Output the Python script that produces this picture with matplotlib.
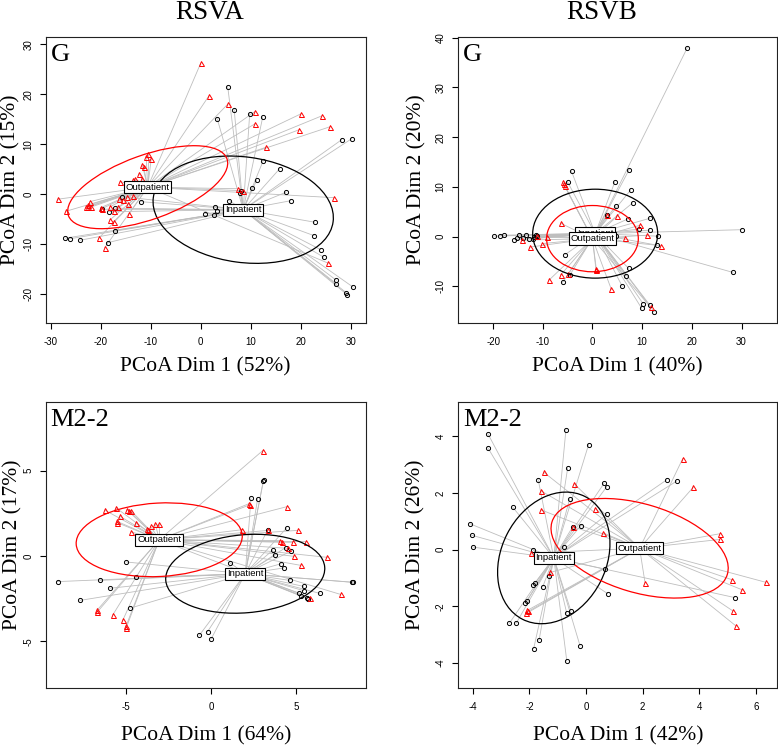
import matplotlib
matplotlib.use("Agg")
import matplotlib.pyplot as plt
from matplotlib.patches import Ellipse
import numpy as np

plt.rcParams['axes.unicode_minus'] = False

# ---------------- DATA ----------------
# Panel 1: RSVA, G
rsva_g_in_x = [5.4, 6.7, 3.3, 9.8, 12.4, 28.2, 30.2, 12.5, 15.8, 11.2, 10.3, 8.1, 7.9, 17.1, 18.0, 5.7, 2.9, 3.3, 0.9, 2.6,
               22.8, 22.7, 24.0, 24.6, 27.1, 27.1, 29.1, 29.3, 30.5, -11.9, -15.7, -19.8, -17.1, -18.3, -17.2, -18.6, -27.1, -26.1, -24.1]
rsva_g_in_y = [21.5, 16.9, 15.1, 16.1, 15.4, 10.9, 11.1, 6.7, 5.1, 2.8, 1.2, 0.7, 0.2, 0.4, -1.3, -1.3, -2.5, -3.3, -3.9, -4.1,
               -5.6, -8.3, -11.1, -12.6, -17.2, -17.9, -19.7, -20.1, -18.6, -1.5, -0.5, -3.0, -2.8, -3.5, -7.3, -9.7, -8.8, -8.9, -9.2]
rsva_g_out_x = [0.0, 1.6, 5.5, 10.8, 10.9, 20.1, 24.3, 19.7, 25.9, 13.1, -10.6, -10.9, -9.9, -11.7, -11.4, -12.3, -11.8, -13.5, -13.2,
                -16.1, 7.5, 8.5, 26.7, -28.6, -26.9, -22.2, -22.5, -23.0, -22.6, -22.0, -20.0, -19.8, -18.1, -16.4, -15.6, -14.8,
                -13.5, -14.5, -16.6, -17.3, -14.3, -18.1, -17.4, -20.3, -19.2, 25.5]
rsva_g_out_y = [26.2, 19.6, 18.1, 16.5, 14.1, 16.1, 15.7, 12.9, 13.5, 9.4, 8.1, 7.4, 7.0, 5.9, 5.4, 4.1, 3.1, 2.9, 3.1,
                2.5, 1.1, 0.7, -0.7, -1.0, -3.4, -1.5, -2.2, -2.6, -2.6, -2.6, -2.7, -2.9, -2.5, -0.9, -1.2, -0.5,
                -0.3, -2.0, -2.6, -3.3, -3.9, -5.1, -5.5, -8.7, -10.7, -13.8]

# Panel 2: RSVB, G
rsvb_g_in_x = [19.1, -4.2, -5.0, 7.4, 4.5, 7.7, 8.1, 4.7, 2.9, 7.2, 11.6, 11.5, 9.3, 30.1, 13.2, 12.9, 28.3, 7.3, 6.7, 6.0,
               10.2, 9.9, 11.5, 12.4, -5.5, -4.6, -6.0, -19.9, -18.7, -17.8, -15.7, -15.2, -14.8, -13.9, -13.4, -12.8,
               -11.9, -11.7, -11.3, -11.1, 4.8]
rsvb_g_in_y = [38.0, 13.1, 11.0, 13.5, 11.0, 9.4, 6.8, 6.2, 4.4, 3.6, 3.7, 1.3, 1.5, 1.4, 0.1, -1.7, -7.2, -6.4, -7.9, -10.0,
               -13.5, -14.4, -13.7, -15.1, -3.6, -7.8, -9.2, 0.1, 0.2, 0.3, -0.6, -0.3, 0.4, -0.2, 0.4, -0.4,
               -0.4, 0.0, 0.3, 0.1, 0.1]
rsvb_g_out_x = [-6.0, -5.8, -5.6, 3.0, 5.0, -6.4, 9.6, 11.0, 6.5, 13.7, -9.1, -10.1, -12.6, -14.2, 0.7, 0.8, -6.4, -4.9,
                -8.7, 3.8, 11.7, -11.2]
rsvb_g_out_y = [11.0, 10.6, 10.2, 4.4, 4.1, 2.7, 2.3, 0.3, -0.2, -1.8, -0.1, -1.4, -2.1, -0.7, -6.6, -6.7, -7.7, -7.5,
                -8.7, -10.6, -14.2, 0.2]

# Panel 3: RSVA, M2-2
rsva_m_in_x = [3.10, 3.09, 2.36, 2.75, 3.34, 4.46, 3.63, 3.79, 4.40, 4.73, 4.15, 4.30, 4.64, 5.46, 5.46, 5.19, 5.30, 5.64,
               5.74, 6.42, 8.33, 8.39, 1.10, -0.69, -0.20, 0.00, -5.01, -4.44, -9.04, -6.54, -5.95, -7.72, -4.75]
rsva_m_in_y = [4.45, 4.40, 3.40, 3.34, 1.52, 1.64, 0.33, 0.06, 0.49, 0.29, -0.45, -0.70, -1.43, -1.78, -2.03, -2.17, -2.32,
               -2.44, -2.52, -2.19, -1.54, -1.54, -0.39, -4.65, -4.43, -4.88, -0.35, -1.25, -1.50, -1.43, -1.89, -2.60, -3.05]
rsva_m_out_x = [3.05, -6.25, -5.58, -4.95, -4.85, -4.72, -5.36, -5.54, -5.52, -4.44, -4.70, -3.77, -3.71, -3.56, -3.28,
                -3.05, 2.26, 2.30, 4.48, 1.85, 3.38, 5.11, 4.09, 4.17, 4.81, 5.60, 4.52, 4.89, 6.86, 5.30, 7.64, 5.83,
                -6.72, -6.70, -5.78, -5.19, -5.01, -4.99]
rsva_m_out_y = [6.17, 2.68, 2.81, 2.70, 2.66, 2.66, 2.32, 2.03, 1.95, 1.93, 1.41, 1.58, 1.50, 1.74, 1.89,
                1.88, 3.07, 3.00, 2.89, 1.54, 1.50, 1.50, 0.90, 0.82, 0.80, 0.84, 0.45, -0.02, -0.08, -0.55, -2.25, -2.44,
                -3.18, -3.28, -3.44, -3.75, -4.12, -4.20]

# Panel 4: RSVB, M2-2
rsvb_m_in_x = [-3.46, -3.47, -0.71, 0.09, -0.65, -1.69, 0.64, 0.73, -0.58, -2.58, 0.73, -0.19, -0.47, -4.09, -4.04, -3.99,
               -1.86, -0.79, 2.84, 3.20, 0.67, 0.76, 5.25, -1.31, -1.53, -1.80, -1.87, -2.08, -2.14, -2.71, -2.47, -0.68,
               -0.53, -1.66, -1.85, -0.21, -0.68]
rsvb_m_in_y = [4.08, 3.60, 4.24, 3.71, 2.88, 2.47, 2.35, 2.22, 1.79, 1.49, 1.25, 0.84, 0.81, 0.91, 0.51, 0.09,
               -0.02, 0.09, 2.46, 2.42, -0.69, -1.55, -1.69, -0.92, -1.31, -1.18, -1.26, -1.80, -1.88, -2.60, -2.60, -2.25,
               -2.18, -3.20, -3.49, -3.40, -3.93]
rsvb_m_out_x = [-1.49, -0.41, -1.58, -1.58, 0.33, -0.47, 0.61, 3.41, 3.79, 4.71, 4.71, -1.94, -1.26, 2.08, 5.15, 5.52,
                6.34, 5.18, 5.29, -2.07, -2.11, -2.05]
rsvb_m_out_y = [2.73, 2.32, 2.07, 1.40, 1.45, 0.81, 0.59, 3.21, 2.21, 0.56, 0.36, -0.12, -0.80, -1.16, -1.06, -1.42,
                -1.15, -2.16, -2.69, -2.14, -2.25, -2.18]

# Group centroids (Inpatient, Outpatient) and ellipse parameters: semi-axis a, semi-axis b, angle (deg)
centroid_in = [(8.5, -3.1), (0.55, 0.6), (2.02, -1.04), (-1.14, -0.29)]
centroid_out = [(-10.6, 1.4), (0.0, -0.4), (-3.05, 0.95), (1.89, 0.05)]
ellipse_in = [(18.14, 10.55, -7.7), (12.58, 8.94, 0.0), (4.70, 2.285, 4.8), (2.43, 1.85, 63.0)]
ellipse_out = [(16.84, 6.43, 19.7), (9.23, 6.66, 0.0), (4.90, 2.15, 3.0), (3.23, 1.56, -16.6)]

panel_names = ["G", "G", "M2-2", "M2-2"]
column_titles = ["RSVA", "RSVB"]
xlabels = ["PCoA Dim 1 (52%)", "PCoA Dim 1 (40%)", "PCoA Dim 1 (64%)", "PCoA Dim 1 (42%)"]
ylabels = ["PCoA Dim 2 (15%)", "PCoA Dim 2 (20%)", "PCoA Dim 2 (17%)", "PCoA Dim 2 (26%)"]
xlims = [(-31.0, 33.0), (-27.0, 37.2), (-9.74, 9.12), (-4.51, 6.75)]
ylims = [(-25.7, 31.5), (-17.3, 40.2), (-7.73, 9.0), (-4.88, 5.2)]
xticks = [[-30, -20, -10, 0, 10, 20, 30], [-20, -10, 0, 10, 20, 30], [-5, 0, 5], [-4, -2, 0, 2, 4, 6]]
yticks = [[-20, -10, 0, 10, 20, 30], [-10, 0, 10, 20, 30, 40], [-5, 0, 5], [-4, -2, 0, 2, 4]]

in_x = [rsva_g_in_x, rsvb_g_in_x, rsva_m_in_x, rsvb_m_in_x]
in_y = [rsva_g_in_y, rsvb_g_in_y, rsva_m_in_y, rsvb_m_in_y]
out_x = [rsva_g_out_x, rsvb_g_out_x, rsva_m_out_x, rsvb_m_out_x]
out_y = [rsva_g_out_y, rsvb_g_out_y, rsva_m_out_y, rsvb_m_out_y]

# ---------------- FIGURE ----------------
W, H = 778, 747
fig = plt.figure(figsize=(W / 100, H / 100), dpi=100)

serif = "Liberation Serif"
sans = "Liberation Sans"

rects = [
    [45.7 / W, 1 - 322.7 / H, 320 / W, 286 / H],
    [458.3 / W, 1 - 322.7 / H, 319 / W, 286 / H],
    [45.7 / W, 1 - 688 / H, 320 / W, 285.7 / H],
    [458.3 / W, 1 - 688 / H, 319 / W, 285.7 / H],
]
xlab_pos = [-0.172, -0.172, -0.183, -0.183]
ylab_pos = [-0.093, -0.114, -0.087, -0.117]

grey = "#BEBEBE"

for i in range(4):
    ax = fig.add_axes(rects[i])
    groups = [
        (in_x[i], in_y[i], centroid_in[i], ellipse_in[i], "black", "o", 3.0, "Inpatient"),
        (out_x[i], out_y[i], centroid_out[i], ellipse_out[i], "red", "^", 3.6, "Outpatient"),
    ]
    # spider lines
    for xs, ys, c, e, col, mk, ms, lab in groups:
        for px, py in zip(xs, ys):
            ax.plot([c[0], px], [c[1], py], color=grey, lw=0.6, zorder=1)
    # points
    for xs, ys, c, e, col, mk, ms, lab in groups:
        ax.plot(xs, ys, linestyle="none", marker=mk, ms=ms, mfc="none", mec=col, mew=0.7, zorder=3)
    # ellipses
    for xs, ys, c, e, col, mk, ms, lab in groups:
        ax.add_patch(Ellipse(c, 2 * e[0], 2 * e[1], angle=e[2], fill=False, ec=col, lw=0.9, zorder=4))
    # centroid labels
    for xs, ys, c, e, col, mk, ms, lab in groups:
        ax.text(c[0], c[1], lab, ha="center", va="center", fontsize=6.8, family=sans, zorder=5,
                bbox=dict(boxstyle="square,pad=0.18", fc="white", ec="black", lw=0.8))

    ax.set_xlim(*xlims[i])
    ax.set_ylim(*ylims[i])
    ax.set_xticks(xticks[i])
    ax.set_yticks(yticks[i])
    ax.tick_params(direction="out", length=4, width=0.8, labelsize=7, pad=6, colors="black")
    ax.tick_params(axis="y", labelrotation=90, pad=5)
    for t in ax.get_xticklabels() + ax.get_yticklabels():
        t.set_family(sans)
    for t in ax.get_yticklabels():
        t.set_va("center")
    for sp in ax.spines.values():
        sp.set_linewidth(0.8)
        sp.set_color("#222222")

    ax.text(0.5, xlab_pos[i], xlabels[i], transform=ax.transAxes, ha="center", va="baseline",
            fontsize=15.5, family=serif)
    ax.text(ylab_pos[i], 0.5, ylabels[i], transform=ax.transAxes, ha="center", va="baseline",
            rotation=90, rotation_mode="anchor", fontsize=15.5, family=serif)
    ax.annotate(panel_names[i], xy=(0, 1), xycoords="axes fraction", xytext=(5, -24),
                textcoords="offset pixels", ha="left", va="baseline", fontsize=19, family=serif)

fig.text(210 / W, 1 - 19 / H, column_titles[0], ha="center", va="baseline", fontsize=19.5, family=serif)
fig.text(602 / W, 1 - 19 / H, column_titles[1], ha="center", va="baseline", fontsize=19.5, family=serif)

fig.savefig("out.png", dpi=100)
